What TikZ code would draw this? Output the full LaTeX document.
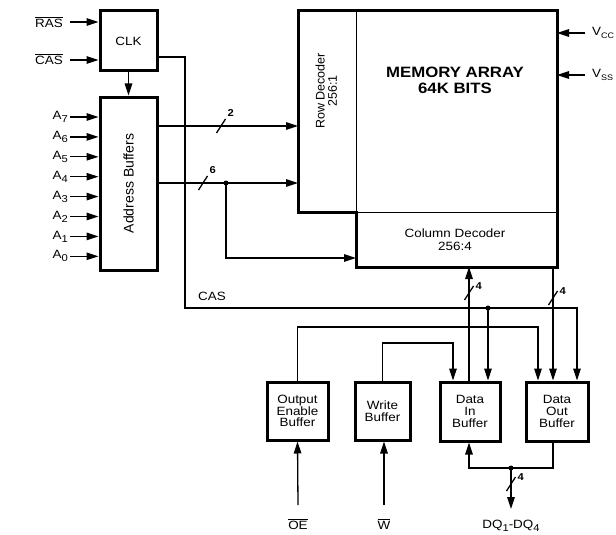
\documentclass[tikz,border=0pt]{standalone}
\usepackage{fontspec}
\usepackage{graphicx}
\setmainfont{Liberation Sans}[FakeStretch=1.12]
\newfontfamily\rotfont{Liberation Sans}
\usetikzlibrary{arrows.meta}
\newcommand\lowsub[1]{\raisebox{-3pt}{\fontsize{10}{10}\selectfont #1}}
\newcommand\smallsub[1]{\raisebox{-3pt}{\fontsize{8}{8}\selectfont #1}}
\newcommand\ovl[1]{$\overline{\hbox{#1}}$}
\begin{document}
\begin{tikzpicture}[x=1pt,y=-1pt,
  box/.style={draw, line width=3pt, inner sep=0pt, align=center, font=\fontsize{12}{11.7}\selectfont},
  region/.style={inner sep=0pt, outer sep=0pt, align=center},
  thickline/.style={line width=3pt, line join=miter},
  thinline/.style={line width=1pt},
  wire/.style={line width=1.3pt},
  arr/.style={wire, -{Triangle[length=12pt,width=7.5pt]}},
  dot/.style={circle, fill, inner sep=0pt, minimum size=5pt},
  lbl/.style={inner sep=0pt, font=\fontsize{12}{12}\selectfont},
  num/.style={inner sep=1.5pt, font=\fontsize{10}{10}\selectfont\bfseries}
]
\useasboundingbox (0,0) rectangle (616,535);

% ---------- left blocks ----------
\node[box, minimum width=57pt, minimum height=60pt] (clk) at (128.5,41) {CLK};
\node[box, minimum width=57pt, minimum height=173pt] (ab) at (128.5,183.5)
  {\rotatebox{90}{\rotfont\fontsize{14}{14}\selectfont Address Buffers}};

% ---------- memory block ----------
\node[region, minimum width=58pt, minimum height=201pt] (rd) at (327,111.5) {};
\node[region, minimum width=201pt, minimum height=201pt] (ma) at (456.5,111.5) {};
\node[region, minimum width=201pt, minimum height=55pt, font=\fontsize{12}{12.7}\selectfont] (cd) at (455,239.5) {Column Decoder\\256:4};
\node[region] (rdt) at (328,91) {\rotatebox{90}{\rotfont\fontsize{12.5}{11.5}\selectfont\begin{tabular}{@{}c@{}}Row Decoder\\256:1\end{tabular}}};
\node[region, font=\fontsize{15}{16}\selectfont\bfseries] (mat) at (455,80) {MEMORY ARRAY\\64K BITS};
\draw[thickline] (rd.north west) -- (ma.north east) -- (ma.east |- cd.south) -- (cd.south west -| ma.west) -- (rd.south east) -- (rd.south west) -- cycle;
\draw[thinline] (rd.north east) -- (rd.south east);
\draw[thinline] (rd.south east) -- (ma.south east);

% ---------- bottom buffers ----------
\node[box, minimum width=61pt, minimum height=58pt] (oe) at (297.5,411) {Output\\Enable\\Buffer};
\node[box, minimum width=55pt, minimum height=58pt] (wb) at (382.5,411) {Write\\Buffer};
\node[box, minimum width=60pt, minimum height=59pt] (di) at (470,411.5) {Data\\In\\Buffer};
\node[box, minimum width=62pt, minimum height=59pt] (do) at (557,411.5) {Data\\Out\\Buffer};

% ---------- inputs on the left ----------
\coordinate (rasT) at (70,22);
\coordinate (casT) at (70,60);
\node[lbl, anchor=east] (rasl) at (63,22) {\ovl{RAS}};
\node[lbl, anchor=east] (casl) at (63,59) {\ovl{CAS}};
\draw[arr] (rasT) -- (clk.west |- rasT);
\draw[arr] (casT) -- (clk.west |- casT);
\draw[arr] (clk.south) -- (ab.north);

\foreach \i in {0,...,7}{
  \coordinate (a\i) at (70,{256.3-19.9*\i});
  \node[lbl, anchor=east] (al\i) at (68,{256.3-19.9*\i}) {A\lowsub{\i}};
  \draw[arr] (a\i) -- (ab.west |- a\i);
}

% ---------- address buses ----------
\coordinate (y2) at (0,126);
\coordinate (y6) at (0,183);
\coordinate (y258) at (0,258);
\draw[arr] (ab.east |- y2) -- (rd.west |- y2);
\draw[arr] (ab.east |- y6) -- (rd.west |- y6);
\node[dot] (d6) at (226,183) {};
\draw[arr] (d6.center) |- (ma.west |- y258);
\draw[wire] (221,126) ++(-4.5,7) -- ++(9,-14) node[num, anchor=south west] {2};
\draw[wire] (203,183) ++(-4.5,7) -- ++(9,-14) node[num, anchor=south west] {6};

% ---------- CAS line ----------
\coordinate (c1) at (185,57);
\coordinate (c2) at (185,308);
\coordinate (x577) at (577,0);
\node[lbl] (casm) at (212,296) {CAS};
\draw[arr] (clk.east |- c1) -| (c2) -| (x577 |- do.north);
\node[dot] (d1) at (488,308) {};
\draw[arr] (d1.center) -- (d1.center |- di.north);

% ---------- output enable and write ----------
\coordinate (c538) at (538,327);
\coordinate (c453) at (453,343);
\draw[arr] (oe.north) |- (c538) -- (c538 |- do.north);
\draw[arr] (wb.north) |- (c453) -- (c453 |- di.north);

% ---------- data paths ----------
\coordinate (x469) at (469,0);
\coordinate (x553) at (553,0);
\draw[arr] (x469 |- di.north) -- (x469 |- cd.south);
\draw[wire] (469,293) ++(-4.5,7) -- ++(9,-14) node[num, anchor=west] {4};
\draw[arr] (x553 |- cd.south) -- (x553 |- do.north);
\draw[wire] (553,298) ++(-4.5,7) -- ++(9,-14) node[num, anchor=west] {4};

\coordinate (b468) at (0,468);
\draw[arr] (x553 |- do.south) |- (x469 |- b468) -- (x469 |- di.south);
\node[dot] (d2) at (511,468) {};
\coordinate (dqT) at (511,509);
\draw[arr] (d2.center) -- (dqT);
\draw[wire] (511,484) ++(-4.5,7) -- ++(9,-14) node[num, anchor=west] {4};
\node[lbl] (dql) at (511,526) {DQ\lowsub{1}-DQ\lowsub{4}};

% ---------- OE and W inputs ----------
\coordinate (oeT) at (298,505);
\coordinate (wT) at (384,505);
\draw[arr] (oeT) -- (oe.south);
\draw[arr] (wT) -- (wT |- wb.south);
\node[lbl] (oel) at (298,524) {\ovl{OE}};
\node[lbl] (wl) at (384,524) {\ovl{W}};

% ---------- supplies ----------
\coordinate (vccT) at (585,33);
\coordinate (vssT) at (585,75);
\draw[arr] (vccT) -- (ma.east |- vccT);
\draw[arr] (vssT) -- (ma.east |- vssT);
\node[lbl, anchor=west] (vccl) at (592,33) {V\smallsub{CC}};
\node[lbl, anchor=west] (vssl) at (592,75) {V\smallsub{SS}};
\end{tikzpicture}
\end{document}
